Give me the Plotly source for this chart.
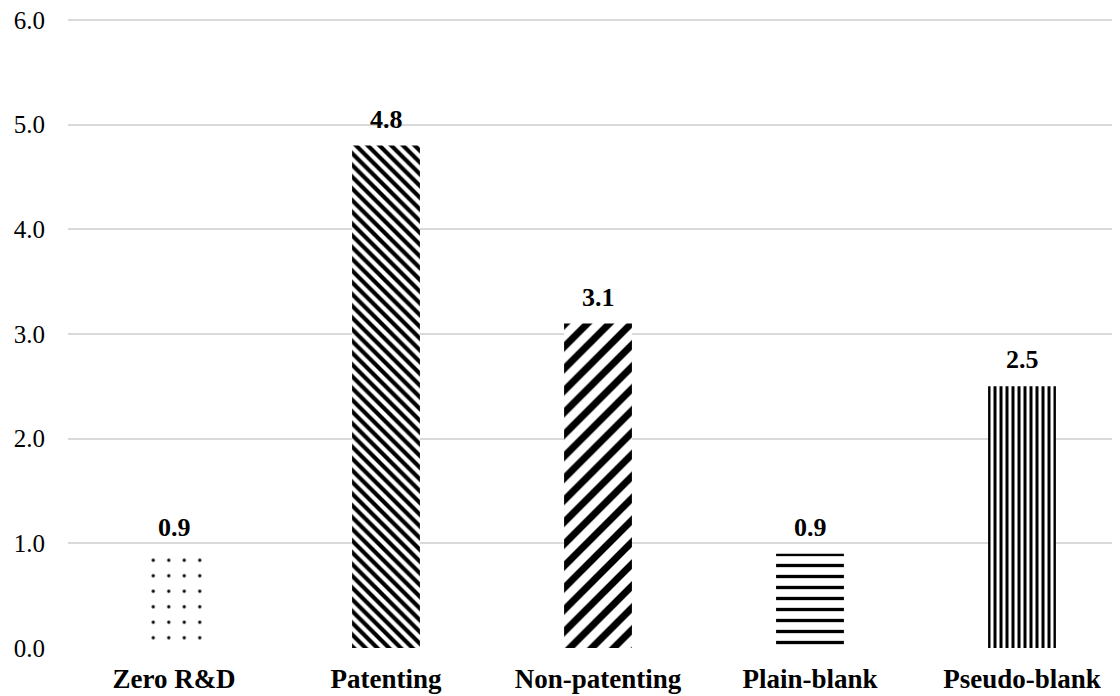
import plotly.graph_objects as go

categories = ["Zero R&D", "Patenting", "Non-patenting", "Plain-blank", "Pseudo-blank"]
values = [0.9, 4.8, 3.1, 0.9, 2.5]
patterns = [".", "\\", "/", "-", "|"]
pattern_sizes = [15.5, 8.3, 15.5, 11, 6]
pattern_solidity = [0.035, 0.5, 0.45, 0.3, 0.5]
y_ticks = [0, 1, 2, 3, 4, 5, 6]

FONT = "Liberation Serif"

fig = go.Figure(
    go.Bar(
        x=list(range(len(categories))),
        y=values,
        width=0.32,
        marker=dict(
            color="white",
            line=dict(width=0),
            pattern=dict(
                shape=patterns,
                size=pattern_sizes,
                solidity=pattern_solidity,
                fgcolor="black",
                bgcolor="white",
                fillmode="replace",
            ),
        ),
        hoverinfo="x+y",
    )
)

for i, v in enumerate(values):
    fig.add_annotation(
        x=i, y=v, text=f"<b>{v:.1f}</b>", showarrow=False,
        yanchor="bottom", yshift=10,
        font=dict(family=FONT, size=26, color="black"),
    )

fig.update_layout(
    width=1112,
    height=688,
    margin=dict(l=60, r=0, t=2, b=48, autoexpand=False),
    paper_bgcolor="white",
    plot_bgcolor="white",
    showlegend=False,
    font=dict(family=FONT, color="black"),
    xaxis=dict(
        range=[-0.5, -0.5 + 1052 / 212],
        tickmode="array",
        tickvals=list(range(len(categories))),
        ticktext=[f"<b>{c}</b>" for c in categories],
        tickfont=dict(family=FONT, size=27, color="black"),
        showgrid=False,
        zeroline=False,
        showline=False,
        ticks="",
        ticklabelstandoff=12,
        ticklabeloverflow="allow",
        automargin=False,
    ),
    yaxis=dict(
        range=[0, 6 + 10 / (628 / 6)],
        tickmode="array",
        tickvals=y_ticks,
        ticktext=[f"{t:.1f}" for t in y_ticks],
        tickfont=dict(family=FONT, size=25, color="black"),
        showgrid=True,
        gridcolor="#d9d9d9",
        gridwidth=1.5,
        zeroline=False,
        showline=False,
        ticks="",
        ticklabelstandoff=22,
        ticklabeloverflow="allow",
        automargin=False,
    ),
)

fig.write_html("out.html")
